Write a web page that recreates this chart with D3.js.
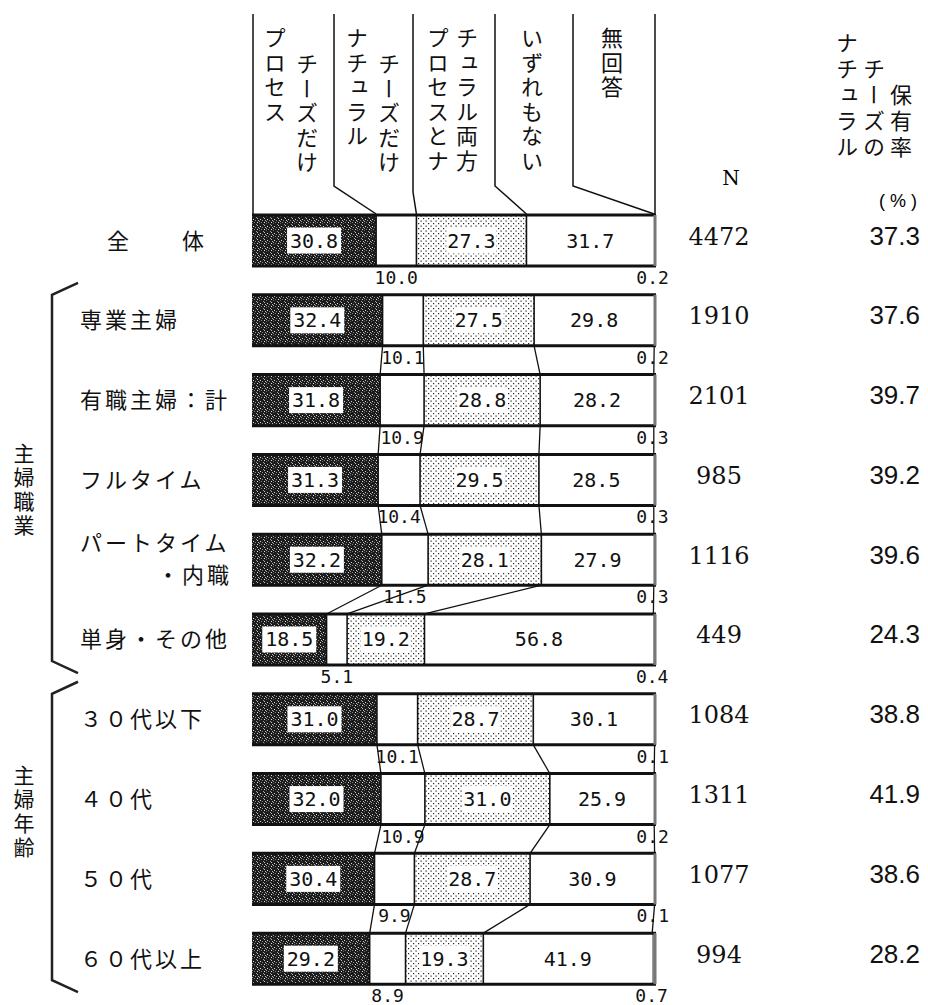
<!DOCTYPE html>
<html>
<head>
<meta charset="utf-8">
<script src="https://cdn.jsdelivr.net/npm/d3@7"></script>
<style>
  body { margin: 0; background: #fff; }
  svg { display: block; }
</style>
</head>
<body>
<div id="chart"></div>
<script>
// rows (top to bottom)
const categories = ["全体", "専業主婦", "有職主婦：計", "フルタイム", "パートタイム・内職",
                    "単身・その他", "３０代以下", "４０代", "５０代", "６０代以上"];
const rowLabels = ["全　　体", "専業主婦", "有職主婦：計", "フルタイム", "パートタイム\n・内職",
                   "単身・その他", "３０代以下", "４０代", "５０代", "６０代以上"];

// series (%)
const processOnly = [30.8, 32.4, 31.8, 31.3, 32.2, 18.5, 31.0, 32.0, 30.4, 29.2];
const naturalOnly = [10.0, 10.1, 10.9, 10.4, 11.5, 5.1, 10.1, 10.9, 9.9, 8.9];
const bothKinds   = [27.3, 27.5, 28.8, 29.5, 28.1, 19.2, 28.7, 31.0, 28.7, 19.3];
const neither     = [31.7, 29.8, 28.2, 28.5, 27.9, 56.8, 30.1, 25.9, 30.9, 41.9];
const noAnswer    = [0.2, 0.2, 0.3, 0.3, 0.3, 0.4, 0.1, 0.2, 0.1, 0.7];
const nCount      = [4472, 1910, 2101, 985, 1116, 449, 1084, 1311, 1077, 994];
const naturalRate = [37.3, 37.6, 39.7, 39.2, 39.6, 24.3, 38.8, 41.9, 38.6, 28.2];

const seriesNames = ["プロセスチーズだけ", "ナチュラルチーズだけ", "プロセスとナチュラル両方", "いずれもない", "無回答"];
const headerCols = [["プロセス", "チーズだけ"], ["ナチュラル", "チーズだけ"], ["プロセスとナ", "チュラル両方"], ["いずれもない"], ["無回答"]];

const groups = [
  {name: "主婦職業", from: 1, to: 5},
  {name: "主婦年齢", from: 6, to: 9}
];

function chart() {
    const width = 928,
        height = 1005;

    const jp = "'Noto Sans CJK JP', sans-serif",
        mono = "'DejaVu Sans Mono', monospace";

    const svg = d3.select("#chart").append("svg")
        .attr("width", width)
        .attr("height", height)
        .attr("viewBox", [0, 0, width, height]);

    const defs = svg.append("defs");

    // dark speckled fill for プロセスチーズだけ
    const dark = defs.append("pattern")
        .attr("id", "dark")
        .attr("patternUnits", "userSpaceOnUse")
        .attr("width", 7).attr("height", 7);
    dark.append("rect").attr("width", 7).attr("height", 7).attr("fill", "#1c1c1c");
    [[1, 2, "#d8d8d8"], [4, 0, "#9a9a9a"], [5, 5, "#e0e0e0"], [2, 5, "#808080"],
     [6, 3, "#b8b8b8"], [0, 6, "#606060"], [3, 3, "#8a8a8a"], [5, 1, "#c0c0c0"],
     [0, 4, "#a0a0a0"]].forEach(([px, py, c]) => {
        dark.append("rect").attr("x", px).attr("y", py).attr("width", 1).attr("height", 1).attr("fill", c);
    });

    // stipple for 両方
    const dots = defs.append("pattern")
        .attr("id", "dots")
        .attr("patternUnits", "userSpaceOnUse")
        .attr("width", 5).attr("height", 5);
    dots.append("rect").attr("width", 5).attr("height", 5).attr("fill", "#fff");
    dots.append("rect").attr("x", 0.5).attr("y", 0.5).attr("width", 1.2).attr("height", 1.2).attr("fill", "#222");
    dots.append("rect").attr("x", 3).attr("y", 3).attr("width", 1.2).attr("height", 1.2).attr("fill", "#222");

    const fills = ["url(#dark)", "#fff", "url(#dots)", "#fff", "#888"];

    const x = d3.scaleLinear().domain([0, 100]).range([252, 655]);
    const y = d3.scaleBand()
        .domain(categories)
        .range([215, 215 + 9 * 79.8 + 51])
        .paddingInner(0.36)
        .paddingOuter(0);
    const bw = y.bandwidth();

    const rows = categories.map((c, i) => {
        const vals = [processOnly[i], naturalOnly[i], bothKinds[i], neither[i], noAnswer[i]];
        let acc = 0;
        const segs = vals.map((v, k) => {
            const s = {k: k, v: v, x0: acc, x1: acc + v};
            acc += v;
            return s;
        });
        return {cat: c, i: i, segs: segs, top: y(c), bottom: y(c) + bw, mid: y(c) + bw / 2};
    });

    // header column lines
    const header = svg.append("g")
        .attr("fill", "none")
        .attr("stroke", "#111")
        .attr("stroke-width", 1.5);
    const first = rows[0];
    const colLines = [334, 413, 495, 573];
    header.append("line")
        .attr("x1", x(0) + 1).attr("x2", x(0) + 1)
        .attr("y1", 14).attr("y2", first.top);
    colLines.forEach((cx, k) => {
        const bend = k === 1 ? 192 : 186;
        header.append("path")
            .attr("d", `M${cx},14 L${cx},${bend} L${x(first.segs[k].x1)},${first.top - 1}`);
    });
    header.append("line")
        .attr("x1", x(100)).attr("x2", x(100))
        .attr("y1", 14).attr("y2", first.top);

    // header text (vertical)
    const headerPos = [[[275, 27], [307, 53]], [[357, 27], [389, 53]], [[438, 27], [467, 27]], [[532, 27]], [[612, 27]]];
    const vtext = svg.append("g")
        .attr("font-family", jp)
        .attr("fill", "#111");
    headerCols.forEach((cols, k) => {
        cols.forEach((t, j) => {
            vtext.append("text")
                .attr("x", headerPos[k][j][0])
                .attr("y", headerPos[k][j][1])
                .attr("font-size", 22)
                .attr("letter-spacing", 2.5)
                .style("writing-mode", "vertical-rl")
                .text(t);
        });
    });

    // right header: ナチュラルチーズの保有率 / N / (%)
    [["ナチュラル", 847, 32], ["チーズの", 874, 58], ["保有率", 901, 84]].forEach(([t, cx, cy]) => {
        vtext.append("text")
            .attr("x", cx).attr("y", cy)
            .attr("font-size", 22)
            .attr("letter-spacing", 4)
            .style("writing-mode", "vertical-rl")
            .text(t);
    });
    svg.append("text")
        .attr("x", 731).attr("y", 185)
        .attr("text-anchor", "middle")
        .attr("font-family", "'DejaVu Serif', serif")
        .attr("font-size", 20)
        .text("N");
    svg.append("text")
        .attr("x", 879).attr("y", 207)
        .attr("font-family", "'Liberation Sans', Arial, sans-serif")
        .attr("font-size", 18)
        .attr("letter-spacing", 5)
        .text("(%)");

    // connectors between consecutive bars within a group
    const conn = svg.append("g")
        .attr("stroke", "#111")
        .attr("stroke-width", 1.3);
    groups.forEach(g => {
        for (let i = g.from; i < g.to; i++) {
            const a = rows[i], b = rows[i + 1];
            for (let k = 0; k < 4; k++) {
                conn.append("line")
                    .attr("x1", x(a.segs[k].x1)).attr("y1", a.bottom)
                    .attr("x2", x(b.segs[k].x1)).attr("y2", b.top);
            }
        }
    });

    // bars
    const bar = svg.append("g").selectAll("g").data(rows).join("g");

    bar.selectAll("rect.seg")
        .data(d => d.segs.map(s => Object.assign({top: d.top}, s)))
        .join("rect")
        .attr("class", "seg")
        .attr("x", s => x(s.x0))
        .attr("y", s => s.top)
        .attr("width", s => x(s.x1) - x(s.x0))
        .attr("height", bw)
        .attr("fill", s => fills[s.k]);

    // segment dividers
    bar.selectAll("line.div")
        .data(d => d.segs.slice(0, 3).map(s => ({xv: s.x1, top: d.top})))
        .join("line")
        .attr("class", "div")
        .attr("x1", s => x(s.xv)).attr("x2", s => x(s.xv))
        .attr("y1", s => s.top).attr("y2", s => s.top + bw)
        .attr("stroke", "#111")
        .attr("stroke-width", 1.6);

    // frame
    bar.append("line")
        .attr("x1", x(0)).attr("x2", x(100) + 1)
        .attr("y1", d => d.top).attr("y2", d => d.top)
        .attr("stroke", "#111").attr("stroke-width", 3);
    bar.append("line")
        .attr("x1", x(0)).attr("x2", x(100) + 1)
        .attr("y1", d => d.bottom).attr("y2", d => d.bottom)
        .attr("stroke", "#111").attr("stroke-width", 3);
    bar.append("line")
        .attr("x1", x(100)).attr("x2", x(100))
        .attr("y1", d => d.top).attr("y2", d => d.bottom)
        .attr("stroke", "#777").attr("stroke-width", 3);

    // in-bar labels
    const inLab = bar.selectAll("g.lab")
        .data(d => [0, 2, 3].map(k => Object.assign({mid: d.mid}, d.segs[k])))
        .join("g")
        .attr("class", "lab")
        .attr("transform", s => `translate(${x((s.x0 + s.x1) / 2)},${s.mid})`);
    inLab.filter(s => s.k !== 3).append("rect")
        .attr("x", s => s.k === 0 ? -27 : -25)
        .attr("y", -13)
        .attr("width", s => s.k === 0 ? 54 : 50)
        .attr("height", 26)
        .attr("fill", "#fff");
    inLab.append("text")
        .attr("y", 7)
        .attr("text-anchor", "middle")
        .attr("font-family", mono)
        .attr("font-size", 20)
        .attr("fill", "#111")
        .text(s => s.v.toFixed(1));

    // small-segment labels under the bar
    bar.selectAll("text.small")
        .data(d => [1, 4].map(k => Object.assign({bottom: d.bottom}, d.segs[k])))
        .join("text")
        .attr("class", "small")
        .attr("x", s => x((s.x0 + s.x1) / 2) + (s.k === 4 ? -2 : 0))
        .attr("y", s => s.bottom + 18)
        .attr("text-anchor", "middle")
        .attr("font-family", mono)
        .attr("font-size", 18)
        .attr("fill", "#111")
        .text(s => s.v.toFixed(1));

    // N and rate
    bar.append("text")
        .attr("x", 719)
        .attr("y", d => d.mid + 4)
        .attr("text-anchor", "middle")
        .attr("font-family", "'DejaVu Serif', serif")
        .attr("font-size", 24)
        .attr("fill", "#111")
        .text(d => nCount[d.i]);
    bar.append("text")
        .attr("x", 920)
        .attr("y", d => d.mid + 4)
        .attr("text-anchor", "end")
        .attr("font-family", "'Liberation Sans', Arial, sans-serif")
        .attr("font-size", 26)
        .attr("fill", "#111")
        .text(d => naturalRate[d.i].toFixed(1));

    // row labels
    const lab = svg.append("g")
        .attr("font-family", jp)
        .attr("font-size", 22)
        .attr("letter-spacing", 3)
        .attr("fill", "#111");
    rows.forEach(r => {
        const lines = rowLabels[r.i].split("\n");
        if (lines.length === 1) {
            lab.append("text")
                .attr("x", r.i === 0 ? 107 : 80)
                .attr("y", r.mid + 8)
                .text(lines[0]);
        } else {
            lab.append("text").attr("x", 80).attr("y", r.mid - 9).text(lines[0]);
            lab.append("text").attr("x", 232).attr("y", r.mid + 23)
                .attr("text-anchor", "end").text(lines[1]);
        }
    });

    // group brackets and labels
    const labelTops = [443, 765];
    groups.forEach((g, gi) => {
        const t = rows[g.from].top - 12,
            b = rows[g.to].bottom + 8;
        svg.append("path")
            .attr("d", `M78,${t} L52,${t + 12} L52,${b - 12} L78,${b}`)
            .attr("fill", "none")
            .attr("stroke", "#222")
            .attr("stroke-width", 2.5);
        svg.append("text")
            .attr("x", 24)
            .attr("y", labelTops[gi])
            .attr("font-family", jp)
            .attr("font-size", 21)
            .attr("letter-spacing", 3)
            .attr("fill", "#111")
            .style("writing-mode", "vertical-rl")
            .text(g.name);
    });
}

window.onload = function() {
    chart();
};
</script>
</body>
</html>
